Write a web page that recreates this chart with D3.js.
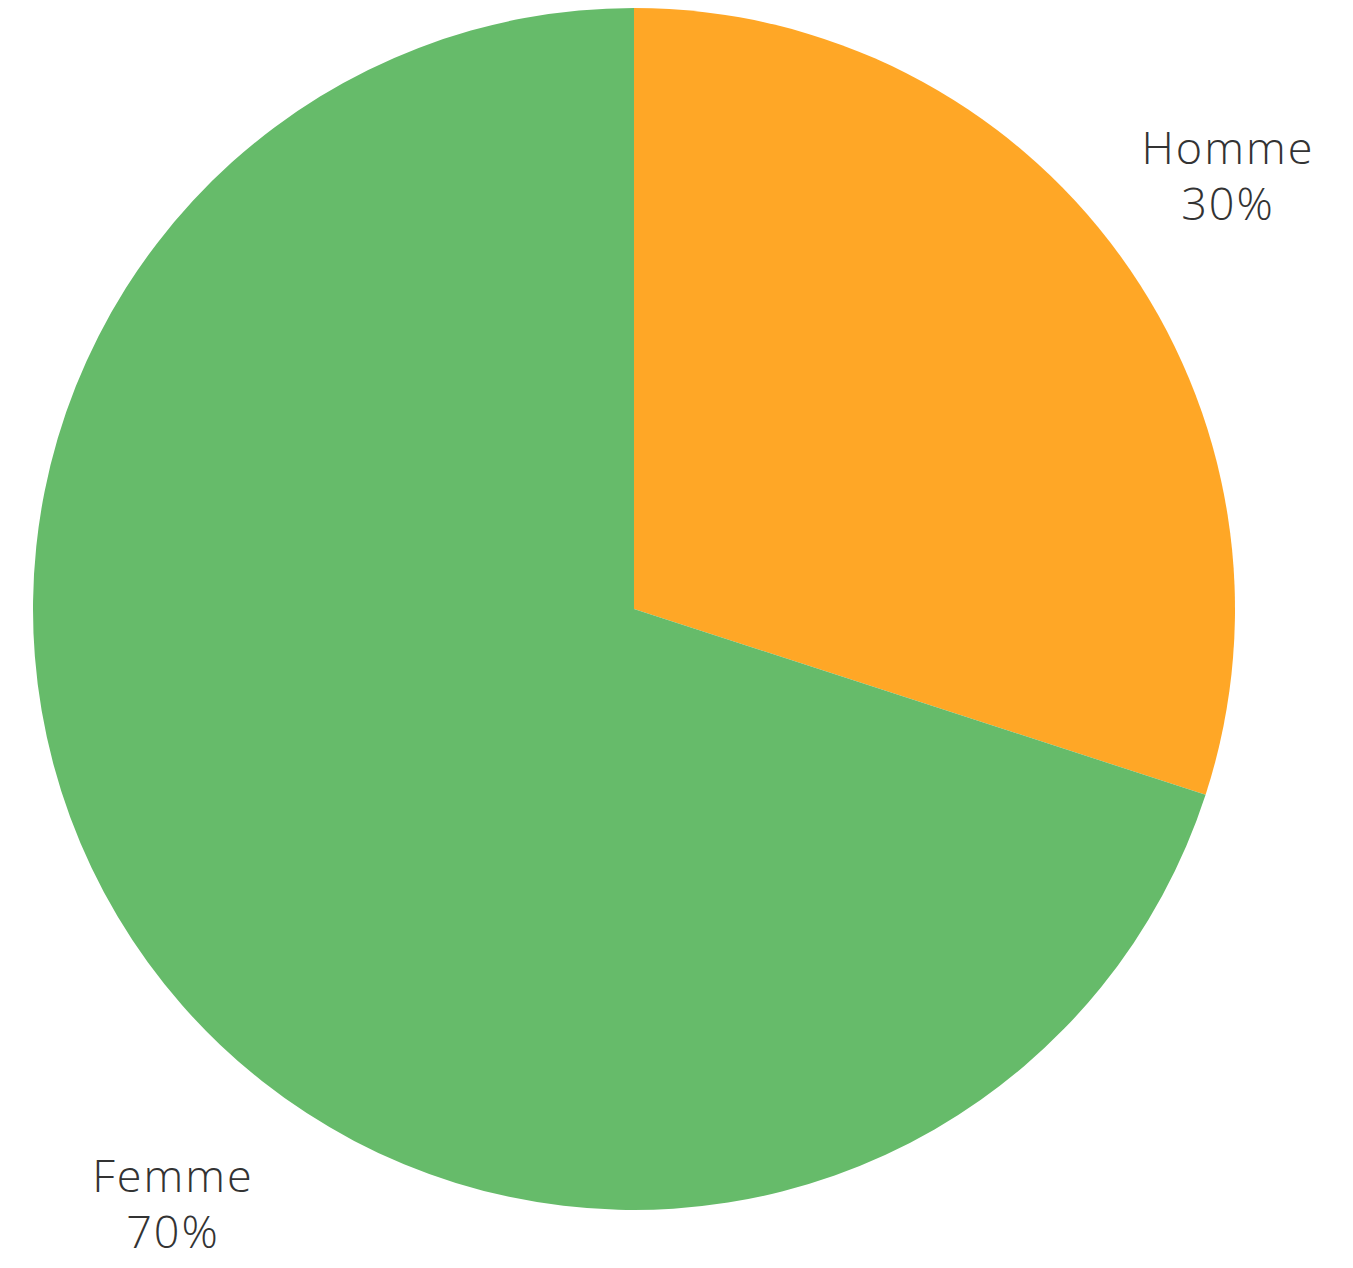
<!DOCTYPE html>
<html><head><meta charset="utf-8">
<script src="https://cdn.jsdelivr.net/npm/d3@7"></script>
<style>html,body{margin:0;padding:0;background:#fff;}</style>
</head><body>
<svg id="chart" width="1353" height="1268"></svg>
<script>
const categories = ["Homme", "Femme"];
const values = [30, 70];
const colors = ["#ffa726", "#66bb6a"];
const labelText = ["30%", "70%"];

const svg = d3.select("#chart");
const cx = 634, cy = 609, r = 601;
const g = svg.append("g").attr("transform", `translate(${cx},${cy})`);
const data = categories.map((c, i) => ({cat: c, value: values[i], label: labelText[i]}));
const pie = d3.pie().value(d => d.value).sort(null);
const arc = d3.arc().innerRadius(0).outerRadius(r);
const color = d3.scaleOrdinal().domain(categories).range(colors);
const arcs = pie(data);
g.selectAll("path").data(arcs).join("path")
  .attr("d", arc).attr("fill", d => color(d.data.cat));

const labelPos = {"Homme": [1228, 164], "Femme": [173, 1192]};
const lg = svg.append("g");
data.forEach(d => {
  const [x, y] = labelPos[d.cat];
  const t = lg.append("text").attr("x", x).attr("y", y)
    .attr("text-anchor", "middle")
    .style("font-family", "'Open Sans', Lato, sans-serif")
    .style("font-weight", 300)
    .style("font-size", "45px")
    .style("letter-spacing", "2px")
    .style("fill", "#333");
  t.append("tspan").attr("x", x).attr("dy", 0).text(d.cat);
  t.append("tspan").attr("x", x).attr("dy", 56).text(d.label);
});
</script>
</body></html>
